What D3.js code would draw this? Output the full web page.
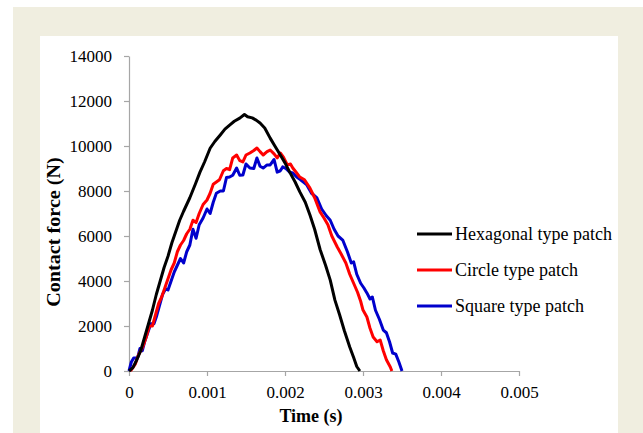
<!DOCTYPE html>
<html>
<head>
<meta charset="utf-8">
<script src="https://cdn.jsdelivr.net/npm/d3@7"></script>
<style>
  body { margin: 0; background: #fff; }
  svg { display: block; }
  text { font-family: "Liberation Serif", "Times New Roman", serif; fill: #000; }
</style>
</head>
<body>
<div id="graph"></div>
<script>
// contact force vs time, three patch types
let seriesNames = ['Hexagonal type patch', 'Circle type patch', 'Square type patch'];
let seriesColors = ['#000000', '#ff0000', '#0000cc'];

let hexTime = [0, 0.00005, 0.0001, 0.00015, 0.0002, 0.00025, 0.0003, 0.00035, 0.0004, 0.00045, 0.0005,
    0.00055, 0.00058, 0.00065, 0.0007, 0.00078, 0.00085, 0.00091, 0.00097, 0.00104, 0.0011, 0.00117,
    0.00123, 0.00129, 0.00135, 0.00142, 0.00148, 0.00152, 0.00158, 0.00163, 0.00168, 0.00174, 0.00181,
    0.00187, 0.00194, 0.002, 0.00206, 0.00213, 0.00219, 0.00226, 0.00232, 0.00238, 0.00245, 0.00252,
    0.00258, 0.00264, 0.0027, 0.00276, 0.00283, 0.00288, 0.00292, 0.00296];
let hexForce = [0, 150, 500, 900, 1500, 2100, 2700, 3400, 4000, 4600, 5100,
    5700, 6000, 6700, 7100, 7700, 8300, 8840, 9300, 9900, 10200, 10490,
    10750, 10930, 11100, 11240, 11400, 11300, 11250, 11150, 11020, 10800, 10350,
    10000, 9600, 9250, 8840, 8400, 7960, 7500, 6930, 6300, 5400, 4700,
    4040, 3150, 2500, 1800, 1070, 600, 200, 0];

let circleTime = [0.00002, 0.00008, 0.00012, 0.00018, 0.00022, 0.00026, 0.0003, 0.00034, 0.00038, 0.00042,
    0.00046, 0.0005, 0.00054, 0.00058, 0.00062, 0.00066, 0.0007, 0.00074, 0.00078, 0.00082, 0.00086,
    0.0009, 0.00095, 0.001, 0.00104, 0.00108, 0.00112, 0.00116, 0.00121, 0.00125, 0.00129, 0.00133,
    0.00138, 0.00142, 0.00146, 0.0015, 0.00155, 0.0016, 0.00164, 0.00168, 0.00172, 0.00177, 0.00181,
    0.00186, 0.0019, 0.00194, 0.00198, 0.00203, 0.00207, 0.0021, 0.00215, 0.00219, 0.00225, 0.00232,
    0.00238, 0.00245, 0.0025, 0.00255, 0.0026, 0.00267, 0.00272, 0.00278, 0.00283, 0.00288, 0.00293,
    0.00297, 0.003, 0.00305, 0.00309, 0.00313, 0.00318, 0.00322, 0.00326, 0.0033, 0.00335, 0.00337];
let circleForce = [0, 300, 700, 1100, 1500, 2000, 2000, 2500, 3000, 3300,
    3700, 4100, 4500, 4800, 5300, 5600, 5800, 6100, 6300, 6700, 6600,
    7000, 7400, 7600, 7900, 8300, 8400, 8500, 8900, 9000, 8950, 9470,
    9600, 9350, 9290, 9600, 9690, 9800, 9910, 9750, 9600, 9750, 9820,
    9650, 9470, 9690, 9500, 9160, 9200, 9020, 8800, 8620, 8500, 8130,
    7700, 7070, 6800, 6500, 6000, 5510, 5200, 4800, 4300, 3900, 3500,
    3100, 2710, 2400, 1900, 1510, 1300, 1380, 900, 500, 180, 0];

let squareTime = [0, 0.00003, 0.00006, 0.00011, 0.00014, 0.00017, 0.0002, 0.00024, 0.00028, 0.00032,
    0.00035, 0.00039, 0.00043, 0.00047, 0.0005, 0.00054, 0.00058, 0.00062, 0.00066, 0.0007, 0.00074,
    0.00078, 0.00082, 0.00086, 0.0009, 0.00095, 0.001, 0.00104, 0.00108, 0.00112, 0.00117, 0.00121,
    0.00125, 0.00129, 0.00133, 0.00138, 0.00142, 0.00146, 0.0015, 0.00155, 0.0016, 0.00164, 0.00168,
    0.00172, 0.00177, 0.00181, 0.00186, 0.0019, 0.00194, 0.00197, 0.00201, 0.00206, 0.0021, 0.00215,
    0.0022, 0.00228, 0.00234, 0.00241, 0.00247, 0.00253, 0.00258, 0.00263, 0.00268, 0.00274, 0.0028,
    0.00285, 0.00288, 0.00292, 0.00297, 0.00301, 0.00305, 0.00309, 0.00312, 0.00316, 0.00321, 0.00326,
    0.0033, 0.00334, 0.00338, 0.00342, 0.00346, 0.0035];
let squareForce = [0, 400, 580, 580, 1000, 900, 1300, 1700, 2100, 2100,
    2400, 2900, 3400, 3650, 3600, 4000, 4400, 4700, 5000, 4800, 5300,
    5600, 6300, 5900, 6500, 6800, 7200, 7000, 7500, 7900, 8000, 8000,
    8600, 8620, 8700, 9020, 8700, 8710, 9200, 9020, 9000, 9470, 9100,
    9020, 9160, 9160, 9400, 8840, 8900, 9070, 9000, 8840, 8800, 8620,
    8500, 8270, 7900, 7690, 7200, 6900, 6700, 6300, 6000, 5820, 5300,
    4800, 4850, 4300, 3900, 3700, 3470, 3200, 3290, 2700, 2300, 1820,
    1700, 1300, 800, 750, 400, 0];

let xTicks = [0, 0.001, 0.002, 0.003, 0.004, 0.005];
let yTicks = [0, 2000, 4000, 6000, 8000, 10000, 12000, 14000];

let width = 643;
let height = 433;

let svg = d3.select('#graph')
    .append('svg')
        .attr('width', width)
        .attr('height', height);

// page frame
svg.append('rect')
    .attr('x', 13).attr('y', 7)
    .attr('width', width - 13).attr('height', height - 7)
    .attr('fill', '#f0eee0');
svg.append('rect')
    .attr('x', 40).attr('y', 36)
    .attr('width', 578).attr('height', height - 36)
    .attr('fill', '#ffffff');

let x = d3.scaleLinear().domain([0, 0.005]).range([129, 519]);
let y = d3.scaleLinear().domain([0, 14000]).range([371, 56]);

let xAxis = svg.append('g')
    .attr('transform', 'translate(0,' + y(0) + ')')
    .call(d3.axisBottom(x)
        .tickValues(xTicks)
        .tickSize(5)
        .tickSizeOuter(0)
        .tickPadding(10)
        .tickFormat((d) => { return d === 0 ? '0' : d3.format('.3f')(d); }));

let yAxis = svg.append('g')
    .attr('transform', 'translate(' + x(0) + ',0)')
    .call(d3.axisLeft(y)
        .tickValues(yTicks)
        .tickSize(5)
        .tickSizeOuter(0)
        .tickPadding(12)
        .tickFormat(d3.format('d')));

[xAxis, yAxis].forEach((g) => {
    g.selectAll('path, line').attr('stroke', '#a6a6a6').attr('stroke-width', 1.2);
    g.selectAll('text')
        .attr('font-family', '"Liberation Serif", serif')
        .attr('font-size', 17)
        .attr('fill', '#000');
});

let series = [
    { name: seriesNames[0], color: seriesColors[0], t: hexTime, f: hexForce },
    { name: seriesNames[1], color: seriesColors[1], t: circleTime, f: circleForce },
    { name: seriesNames[2], color: seriesColors[2], t: squareTime, f: squareForce }
];

let line = d3.line()
    .x((d) => { return x(d[0]); })
    .y((d) => { return y(d[1]); });

// draw square first, hexagonal on top
series.slice().reverse().forEach((s) => {
    svg.append('path')
        .datum(s.t.map((t, i) => { return [t, s.f[i]]; }))
        .attr('fill', 'none')
        .attr('stroke', s.color)
        .attr('stroke-width', 3)
        .attr('stroke-linejoin', 'round')
        .attr('d', line);
});

// axis titles
svg.append('text')
    .attr('x', 311).attr('y', 422)
    .attr('text-anchor', 'middle')
    .attr('font-size', 18)
    .attr('font-weight', 'bold')
    .text('Time (s)');

svg.append('text')
    .attr('transform', 'translate(60,232) rotate(-90) scale(1.12,1)')
    .attr('text-anchor', 'middle')
    .attr('font-size', 18)
    .attr('font-weight', 'bold')
    .text('Contact force (N)');

// legend
let legend = svg.selectAll('.legend')
        .data(series)
    .enter().append('g')
        .attr('class', 'legend')
        .attr('transform', (d, i) => { return 'translate(417,' + (234 + i * 36) + ')'; });

legend.append('line')
    .attr('x1', 0).attr('x2', 35)
    .attr('stroke', (d) => { return d.color; })
    .attr('stroke-width', 3);

legend.append('text')
    .attr('x', 38).attr('dy', '0.35em')
    .attr('font-size', 18)
    .text((d) => { return d.name; });
</script>
</body>
</html>
